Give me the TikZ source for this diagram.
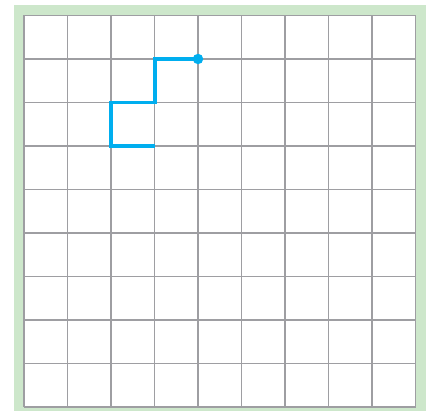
\documentclass[tikz,border=0pt]{standalone}
\usepackage{xcolor}
\usepackage{tikz}
\usetikzlibrary{positioning}

\definecolor{framegreen}{RGB}{205,231,203}
\definecolor{gridgray}{RGB}{158,158,162}
\definecolor{pathblue}{RGB}{0,174,239}

\begin{document}
\begin{tikzpicture}
          [x=1cm,y=1cm,line join=miter]
          \tikzstyle{gridline}=[draw=gridgray,line width=1pt]
          \tikzstyle{walk}=[draw=pathblue,line width=2.6pt]
          \useasboundingbox (-0.552,-0.069) rectangle (9.310,9.356);
          % frame and board
          \fill[framegreen] (-0.23,-0.1) rectangle (9.24,9.24);
          \fill[white] (0,0) rectangle (9,9);
          \draw[gridline] (0,0) grid (9,9);
        
          % the walk
          \coordinate (start) at (4,8);
          \coordinate (p1) at (3,8);
          \coordinate (p2) at (3,7);
          \coordinate (p3) at (2,7);
          \coordinate (p4) at (2,6);
          \coordinate (stop) at (3,6);
          \draw[walk] (start) -- (p1) -- (p2) -- (p3) -- (p4) -- (stop);
          \fill[pathblue] (start) circle (0.12);
        \end{tikzpicture}
\end{document}
